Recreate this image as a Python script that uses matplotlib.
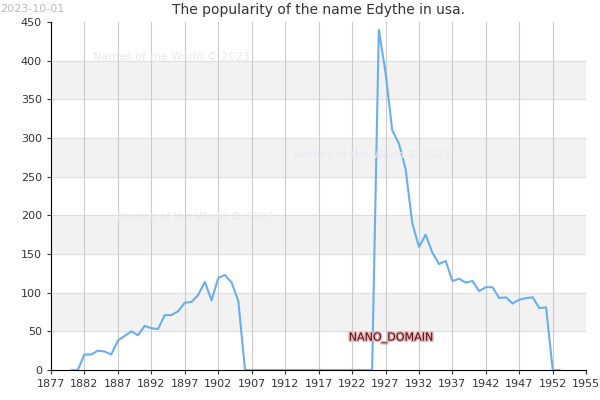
import matplotlib
matplotlib.use('Agg')
import matplotlib.pyplot as plt
import matplotlib.patheffects as pe

years_a = list(range(1880, 1906))
vals_a = [0, 0, 20, 20, 25, 24, 20, 38, 44, 50, 45, 57, 54, 53, 71, 71, 76, 87,
          88, 97, 114, 90, 119, 123, 113, 89]
years_z = list(range(1906, 1926))
vals_z = [0] * len(years_z)
years_b = list(range(1926, 1954))
vals_b = [440, 385, 310, 293, 260, 190, 159, 175, 152, 137, 141, 115, 118, 113,
          115, 102, 107, 107, 93, 94, 86, 91, 93, 94, 80, 81, 0, 0]

years = years_a + years_z + years_b
vals = vals_a + vals_z + vals_b

fig = plt.figure(figsize=(6, 4), dpi=100)
ax = fig.add_axes([0.085, 0.075, 0.892, 0.87])

for lo in range(50, 450, 100):
    ax.axhspan(lo, lo + 50, color='#f2f2f2', zorder=0)
for y in range(50, 450, 50):
    ax.axhline(y, color='#e0e0e0', lw=0.8, zorder=0)
xt = list(range(1877, 1955, 5))
for x in xt:
    ax.axvline(x, color='#cccccc', lw=0.8, zorder=0)

ax.plot(years, vals, color='#6aaef0', lw=1.5, zorder=3)

# the reference's axis runs a little past 1955, with its end marked "1955"
ax.set_xlim(1877, 1957)
ax.set_ylim(0, 450)
ax.set_xticks(xt + [1957])
ax.set_xticklabels([str(x) for x in xt] + ['1955'])
ax.set_yticks(range(0, 451, 50))
ax.tick_params(labelsize=8, length=3, colors='#333333')
for s in ['top', 'right']:
    ax.spines[s].set_visible(False)

ax.set_title('The popularity of the name Edythe in usa.', fontsize=10, color='#333333')
fig.text(0.0, 0.99, '2023-10-01', fontsize=8, color='#bbbbbb', va='top')
for (x, y) in [(0.155, 0.85), (0.49, 0.605), (0.195, 0.45)]:
    fig.text(x, y, 'Names of the World © 2023', fontsize=8, color='#e8e8f4')
ax.text(1921.5, 38, 'NANO_DOMAIN', fontsize=8, color='#4a0f1a',
        path_effects=[pe.withStroke(linewidth=2, foreground='#e8b0b0')], zorder=4)

fig.savefig('out.png', dpi=100)
